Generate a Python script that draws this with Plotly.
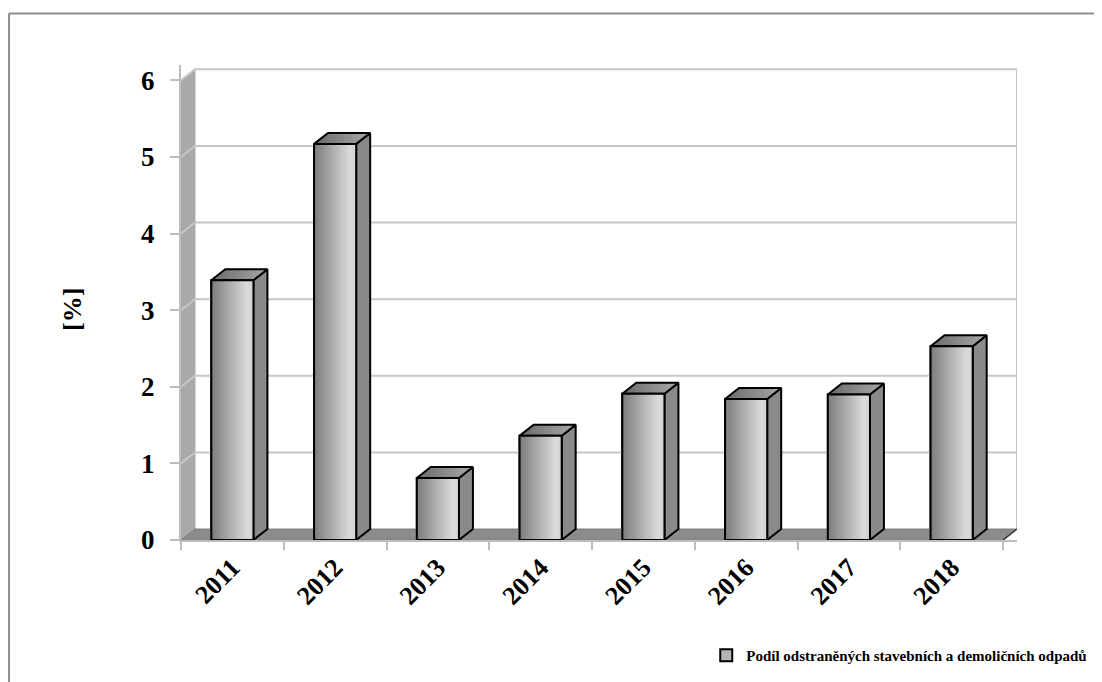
import plotly.graph_objects as go

years = ["2011", "2012", "2013", "2014", "2015", "2016", "2017", "2018"]
values = [3.39, 5.17, 0.81, 1.36, 1.91, 1.84, 1.90, 2.53]
y_ticks = [0, 1, 2, 3, 4, 5, 6]
series_name = "Podíl odstraněných stavebních a demoličních odpadů"
y_title = "[%]"

# geometry of the pseudo-3D look (in data units)
DX = 0.136   # depth offset along x (categories)
DY = 0.143   # depth offset along y (value units)
HW = 0.205   # half width of bar front face
X0, X1 = -0.5, len(years) - 0.5
YMAX = 6

FONT = "Liberation Serif, Times New Roman, serif"
GRID = "#c6c6c6"

idx = list(range(len(years)))
fig = go.Figure()

# side wall (left)
fig.add_trace(go.Scatter(
    x=[X0, X0, X0 + DX, X0 + DX, X0], y=[0, YMAX, YMAX + DY, DY, 0],
    fill="toself", fillcolor="#a9a9a9", line=dict(color="#a9a9a9", width=1),
    mode="lines", showlegend=False, hoverinfo="skip"))

# floor
fig.add_trace(go.Scatter(
    x=[X0, X1, X1 + DX, X0 + DX, X0], y=[0, 0, DY, DY, 0],
    fill="toself", fillcolor="#8c8c8c", line=dict(color="#7a7a7a", width=1),
    mode="lines", showlegend=False, hoverinfo="skip"))

# back-wall gridlines + diagonal on side wall
gx, gy = [], []
for v in y_ticks[1:]:
    gx += [X0, X0 + DX, X1 + DX, None]
    gy += [v, v + DY, v + DY, None]
gx += [X1 + DX, X1 + DX, None]
gy += [DY, YMAX + DY, None]
fig.add_trace(go.Scatter(x=gx, y=gy, mode="lines",
                         line=dict(color=GRID, width=2),
                         showlegend=False, hoverinfo="skip"))
fig.add_trace(go.Scatter(x=[X1, X1 + DX], y=[0, DY], mode="lines",
                         line=dict(color="#333333", width=1.5),
                         showlegend=False, hoverinfo="skip"))

# front faces (base bar trace, used for legend)
fig.add_trace(go.Bar(
    x=idx, y=values, width=2 * HW, name=series_name,
    marker=dict(color="#b5b5b5", line=dict(color="black", width=2)),
    hoverinfo="skip"))

# side faces
sx, sy = [], []
for i, v in zip(idx, values):
    r = i + HW
    sx += [r, r, r + DX, r + DX, r, None]
    sy += [0, v, v + DY, DY, 0, None]
fig.add_trace(go.Scatter(x=sx, y=sy, fill="toself", fillcolor="#8a8a8a",
                         mode="lines", line=dict(color="black", width=2),
                         showlegend=False, hoverinfo="skip"))

# top faces and gradient front faces
for i, v in zip(idx, values):
    l, r = i - HW, i + HW
    fig.add_trace(go.Scatter(
        x=[l, r, r + DX, l + DX, l], y=[v, v, v + DY, v + DY, v],
        fill="toself", mode="lines",
        fillgradient=dict(type="horizontal",
                          colorscale=[[0, "#6a6a6a"], [1, "#a8a8a8"]]),
        line=dict(color="black", width=2),
        showlegend=False, hoverinfo="skip"))
    fig.add_trace(go.Scatter(
        x=[l, r, r, l, l], y=[0, 0, v, v, 0],
        fill="toself", mode="lines",
        fillgradient=dict(type="horizontal",
                          colorscale=[[0, "#7c7c7c"], [0.85, "#dadada"], [1, "#d2d2d2"]]),
        line=dict(color="black", width=2),
        showlegend=False, hoverinfo="skip"))

fig.update_layout(
    width=1094, height=674,
    margin=dict(l=173, r=85, t=57, b=142, autoexpand=False),
    paper_bgcolor="white", plot_bgcolor="white",
    font=dict(family=FONT, color="black"),
    hovermode=False,
    showlegend=True,
    legend=dict(orientation="h", x=1.09, y=-0.243, xanchor="right", yanchor="middle",
                font=dict(family=FONT, size=15, color="black", weight="bold"),
                itemwidth=30, tracegroupgap=0,
                bgcolor="rgba(0,0,0,0)"),
    xaxis=dict(range=[X0, X1 + DX], tickmode="array", tickvals=idx, ticktext=years,
               tickangle=-45, ticks="", showgrid=False, zeroline=False,
               showline=True, linecolor="#bdbdbd", linewidth=2,
               tickfont=dict(family=FONT, size=26, color="black", weight="bold"),
               minor=dict(tickmode="linear", tick0=-0.5, dtick=1, ticks="outside",
                          ticklen=8, tickcolor="#bdbdbd", tickwidth=2, showgrid=False)),
    yaxis=dict(range=[0, 6.2], tickmode="array", tickvals=y_ticks,
               ticks="outside", ticklen=9, tickcolor="#bdbdbd", tickwidth=2,
               showgrid=False, zeroline=False, showline=True,
               linecolor="#bdbdbd", linewidth=2, ticklabelstandoff=10,
               tickfont=dict(family=FONT, size=27, color="black", weight="bold")),
    annotations=[dict(text=y_title, xref="paper", yref="paper", x=-0.130, y=0.485,
                      xanchor="center", yanchor="middle", textangle=-90, showarrow=False,
                      font=dict(family=FONT, size=26, color="black", weight="bold"))],
    shapes=[
        dict(type="line", xref="paper", yref="paper", x0=-0.2057, x1=1.11,
             y0=1.1085, y1=1.1085, line=dict(color="#8c8c8c", width=2)),
        dict(type="line", xref="paper", yref="paper", x0=-0.2057, x1=-0.2057,
             y0=1.1085, y1=-0.31, line=dict(color="#8c8c8c", width=2)),
    ],
)

fig.write_html("out.html")
